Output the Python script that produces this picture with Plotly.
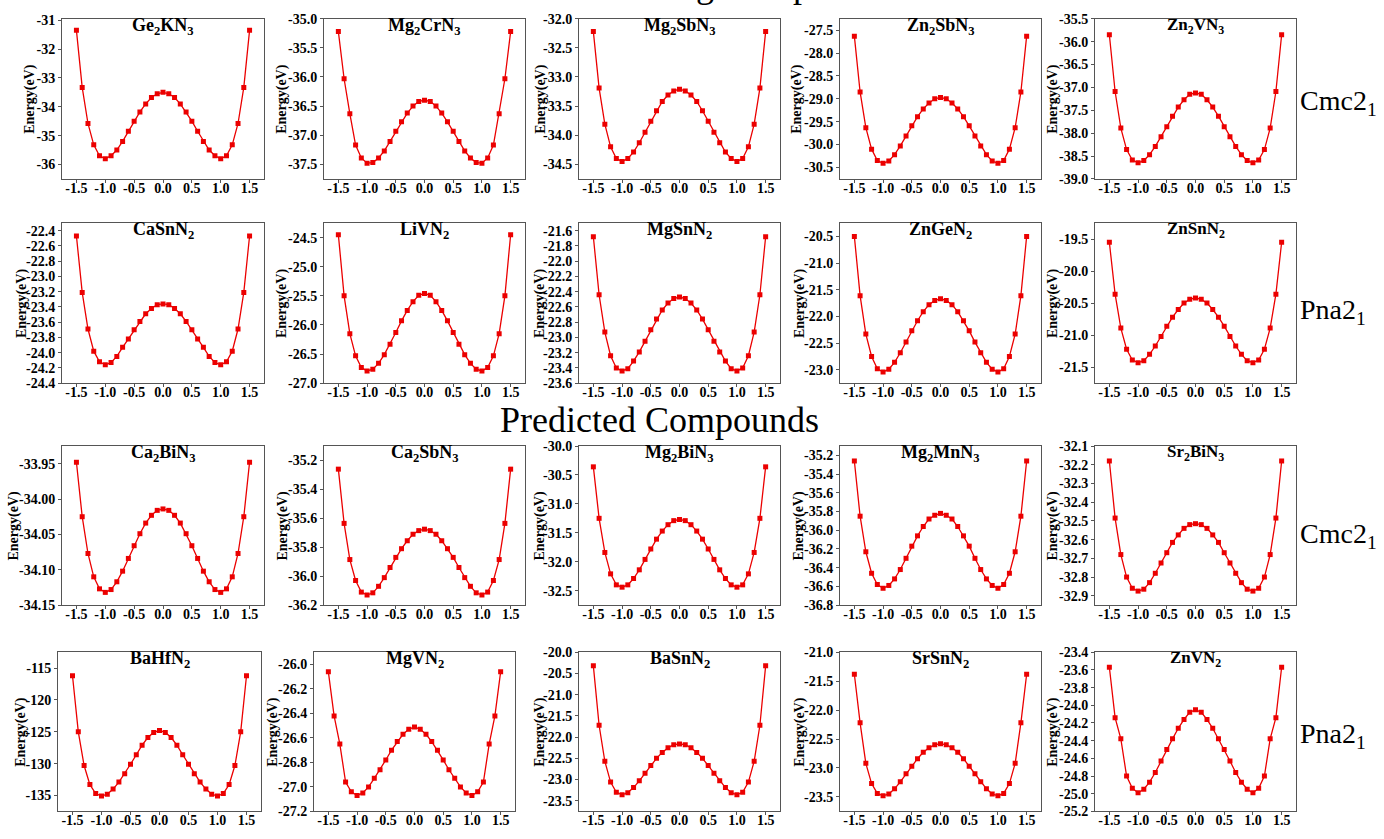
import numpy as np
import plotly.graph_objects as go

# ---------------- data ----------------
displacement = [-1.5, -1.4, -1.3, -1.2, -1.1, -1.0, -0.9, -0.8, -0.7, -0.6, -0.5, -0.4, -0.3, -0.2, -0.1,
                0.0, 0.1, 0.2, 0.3, 0.4, 0.5, 0.6, 0.7, 0.8, 0.9, 1.0, 1.1, 1.2, 1.3, 1.4, 1.5]

compounds = ["Ge<sub>2</sub>KN<sub>3</sub>", "Mg<sub>2</sub>CrN<sub>3</sub>", "Mg<sub>2</sub>SbN<sub>3</sub>",
             "Zn<sub>2</sub>SbN<sub>3</sub>", "Zn<sub>2</sub>VN<sub>3</sub>",
             "CaSnN<sub>2</sub>", "LiVN<sub>2</sub>", "MgSnN<sub>2</sub>", "ZnGeN<sub>2</sub>", "ZnSnN<sub>2</sub>",
             "Ca<sub>2</sub>BiN<sub>3</sub>", "Ca<sub>2</sub>SbN<sub>3</sub>", "Mg<sub>2</sub>BiN<sub>3</sub>",
             "Mg<sub>2</sub>MnN<sub>3</sub>", "Sr<sub>2</sub>BiN<sub>3</sub>",
             "BaHfN<sub>2</sub>", "MgVN<sub>2</sub>", "BaSnN<sub>2</sub>", "SrSnN<sub>2</sub>", "ZnVN<sub>2</sub>"]

ge2kn3 = [-31.35, -33.33, -34.58, -35.32, -35.70, -35.80, -35.70, -35.50, -35.20, -34.85, -34.50, -34.18, -33.90, -33.68, -33.55, -33.50, -33.55, -33.68, -33.90, -34.18, -34.50, -34.85, -35.20, -35.50, -35.70, -35.80, -35.70, -35.32, -34.58, -33.33, -31.35]
mg2crn3 = [-35.22, -36.03, -36.63, -37.17, -37.39, -37.48, -37.47, -37.39, -37.27, -37.11, -36.93, -36.77, -36.62, -36.50, -36.42, -36.40, -36.42, -36.50, -36.62, -36.77, -36.93, -37.11, -37.27, -37.39, -37.47, -37.48, -37.39, -37.17, -36.63, -36.03, -35.22]
mg2sbn3 = [-32.22, -33.19, -33.81, -34.20, -34.40, -34.45, -34.40, -34.29, -34.13, -33.95, -33.76, -33.58, -33.42, -33.31, -33.24, -33.21, -33.24, -33.31, -33.42, -33.58, -33.76, -33.95, -34.13, -34.29, -34.40, -34.45, -34.40, -34.20, -33.81, -33.19, -32.22]
zn2sbn3 = [-27.63, -28.85, -29.63, -30.10, -30.35, -30.41, -30.36, -30.22, -30.03, -29.81, -29.59, -29.39, -29.22, -29.09, -29.00, -28.97, -29.00, -29.09, -29.22, -29.39, -29.59, -29.81, -30.03, -30.22, -30.36, -30.41, -30.35, -30.10, -29.63, -28.85, -27.63]
zn2vn3 = [-35.85, -37.09, -37.89, -38.36, -38.59, -38.65, -38.60, -38.47, -38.29, -38.08, -37.86, -37.63, -37.43, -37.27, -37.15, -37.12, -37.15, -37.27, -37.43, -37.63, -37.86, -38.08, -38.29, -38.47, -38.60, -38.65, -38.59, -38.36, -37.89, -37.09, -35.85]
casnn2 = [-22.47, -23.21, -23.69, -23.98, -24.12, -24.16, -24.13, -24.05, -23.93, -23.82, -23.70, -23.59, -23.49, -23.42, -23.37, -23.36, -23.37, -23.42, -23.49, -23.59, -23.70, -23.82, -23.93, -24.05, -24.13, -24.16, -24.12, -23.98, -23.69, -23.21, -22.47]
livn2 = [-24.45, -25.50, -26.15, -26.53, -26.73, -26.79, -26.76, -26.66, -26.51, -26.33, -26.13, -25.93, -25.75, -25.60, -25.49, -25.46, -25.49, -25.60, -25.75, -25.93, -26.13, -26.33, -26.51, -26.66, -26.76, -26.79, -26.73, -26.53, -26.15, -25.50, -24.45]
mgsnn2 = [-21.68, -22.44, -22.93, -23.24, -23.40, -23.44, -23.41, -23.31, -23.19, -23.05, -22.90, -22.76, -22.64, -22.55, -22.49, -22.47, -22.49, -22.55, -22.64, -22.76, -22.90, -23.05, -23.19, -23.31, -23.41, -23.44, -23.40, -23.24, -22.93, -22.44, -21.68]
zngen2 = [-20.50, -21.61, -22.33, -22.75, -22.98, -23.04, -22.99, -22.86, -22.68, -22.48, -22.27, -22.08, -21.91, -21.78, -21.70, -21.67, -21.70, -21.78, -21.91, -22.08, -22.27, -22.48, -22.68, -22.86, -22.99, -23.04, -22.98, -22.75, -22.33, -21.61, -20.50]
znsnn2 = [-19.55, -20.36, -20.89, -21.22, -21.39, -21.43, -21.40, -21.30, -21.17, -21.02, -20.86, -20.72, -20.60, -20.50, -20.44, -20.42, -20.44, -20.50, -20.60, -20.72, -20.86, -21.02, -21.17, -21.30, -21.40, -21.43, -21.39, -21.22, -20.89, -20.36, -19.55]
ca2bin3 = [-33.948, -34.025, -34.077, -34.110, -34.127, -34.132, -34.128, -34.117, -34.102, -34.084, -34.066, -34.049, -34.034, -34.023, -34.016, -34.014, -34.016, -34.023, -34.034, -34.049, -34.066, -34.084, -34.102, -34.117, -34.128, -34.132, -34.127, -34.110, -34.077, -34.025, -33.948]
ca2sbn3 = [-35.260, -35.635, -35.885, -36.030, -36.110, -36.130, -36.115, -36.070, -36.010, -35.940, -35.870, -35.810, -35.755, -35.710, -35.685, -35.675, -35.685, -35.710, -35.755, -35.810, -35.870, -35.940, -36.010, -36.070, -36.115, -36.130, -36.110, -36.030, -35.885, -35.635, -35.260]
mg2bin3 = [-30.36, -31.25, -31.84, -32.21, -32.40, -32.44, -32.40, -32.29, -32.14, -31.96, -31.78, -31.61, -31.47, -31.36, -31.29, -31.27, -31.29, -31.36, -31.47, -31.61, -31.78, -31.96, -32.14, -32.29, -32.40, -32.44, -32.40, -32.21, -31.84, -31.25, -30.36]
mg2mnn3 = [-35.26, -35.85, -36.23, -36.46, -36.58, -36.62, -36.59, -36.52, -36.42, -36.30, -36.17, -36.06, -35.96, -35.88, -35.84, -35.82, -35.84, -35.88, -35.96, -36.06, -36.17, -36.30, -36.42, -36.52, -36.59, -36.62, -36.58, -36.46, -36.23, -35.85, -35.26]
sr2bin3 = [-32.180, -32.485, -32.680, -32.800, -32.860, -32.875, -32.865, -32.830, -32.780, -32.725, -32.670, -32.615, -32.575, -32.540, -32.520, -32.515, -32.520, -32.540, -32.575, -32.615, -32.670, -32.725, -32.780, -32.830, -32.865, -32.875, -32.860, -32.800, -32.680, -32.485, -32.180]
bahfn2 = [-116.2, -125.0, -130.3, -133.3, -134.7, -135.1, -134.8, -134.0, -132.9, -131.6, -130.1, -128.6, -127.1, -125.9, -125.1, -124.8, -125.1, -125.9, -127.1, -128.6, -130.1, -131.6, -132.9, -134.0, -134.8, -135.1, -134.7, -133.3, -130.3, -125.0, -116.2]
mgvn2 = [-26.06, -26.42, -26.65, -26.96, -27.04, -27.07, -27.05, -27.00, -26.93, -26.86, -26.78, -26.70, -26.63, -26.57, -26.53, -26.51, -26.53, -26.57, -26.63, -26.70, -26.78, -26.86, -26.93, -27.00, -27.05, -27.07, -27.04, -26.96, -26.65, -26.42, -26.06]
basnn2 = [-20.32, -21.72, -22.57, -23.06, -23.30, -23.36, -23.31, -23.19, -23.03, -22.85, -22.67, -22.50, -22.36, -22.25, -22.18, -22.16, -22.18, -22.25, -22.36, -22.50, -22.67, -22.85, -23.03, -23.19, -23.31, -23.36, -23.30, -23.06, -22.57, -21.72, -20.32]
srsnn2 = [-21.38, -22.22, -22.92, -23.27, -23.44, -23.48, -23.45, -23.36, -23.24, -23.10, -22.97, -22.84, -22.73, -22.65, -22.60, -22.58, -22.60, -22.65, -22.73, -22.84, -22.97, -23.10, -23.24, -23.36, -23.45, -23.48, -23.44, -23.27, -22.92, -22.22, -21.38]
znvn2 = [-23.57, -24.14, -24.38, -24.80, -24.94, -24.99, -24.95, -24.87, -24.76, -24.63, -24.50, -24.38, -24.26, -24.16, -24.08, -24.05, -24.08, -24.16, -24.26, -24.38, -24.50, -24.63, -24.76, -24.87, -24.95, -24.99, -24.94, -24.80, -24.38, -24.14, -23.57]

energies = [ge2kn3, mg2crn3, mg2sbn3, zn2sbn3, zn2vn3,
            casnn2, livn2, mgsnn2, zngen2, znsnn2,
            ca2bin3, ca2sbn3, mg2bin3, mg2mnn3, sr2bin3,
            bahfn2, mgvn2, basnn2, srsnn2, znvn2]

# y-axis ranges, tick steps and decimals per panel
y_ranges = [(-36.5, -30.95), (-37.75, -35.0), (-34.75, -32.0), (-30.75, -27.25), (-39.0, -35.5),
            (-24.4, -22.3), (-27.0, -24.25), (-23.6, -21.5), (-23.25, -20.25), (-21.75, -19.25),
            (-34.15, -33.925), (-36.2, -35.1), (-32.75, -30.0), (-36.8, -35.1), (-32.95, -32.1),
            (-137.5, -112.5), (-27.2, -25.9), (-23.75, -20.0), (-23.75, -21.0), (-25.2, -23.4)]
y_steps = [1, 0.5, 0.5, 0.5, 0.5,
           0.2, 0.5, 0.2, 0.5, 0.5,
           0.05, 0.2, 0.5, 0.2, 0.1,
           5, 0.2, 0.5, 0.5, 0.2]
y_decimals = [0, 1, 1, 1, 1,
              1, 1, 1, 1, 1,
              2, 1, 1, 1, 1,
              0, 1, 1, 1, 1]
x_ticks = [-1.5, -1.0, -0.5, 0.0, 0.5, 1.0, 1.5]
x_tick_labels = ["-1.5", "-1.0", "-0.5", "0.0", "0.5", "1.0", "1.5"]

row_labels = ["Cmc2<sub>1</sub>", "Pna2<sub>1</sub>", "Cmc2<sub>1</sub>", "Pna2<sub>1</sub>"]
section_titles = ["Existing Compounds", "Predicted Compounds"]

# ---------------- layout geometry (pixels) ----------------
W, H = 1384, 839
row_px = [(12, 175), (220, 383), (447, 609), (657, 819)]
col_px = [(62, 264), (324, 525), (579, 780), (840, 1041), (1095, 1296)]
col_px_last_row = [(58, 261), (314, 515), (579, 780), (840, 1041), (1095, 1296)]
ylabel_offset = [32, 42, 38, 43, 42,
                 40, 42, 39, 40, 42,
                 48, 41, 39, 41, 42,
                 37, 41, 39, 40, 42]
label_y_px = [97, 310, 538, 742]

FONT = "Liberation Serif"
RED = "rgb(235,0,0)"
AXC = "#555555"

fig = go.Figure()
annotations = []

def fmt(v, d):
    s = f"{v:.{d}f}"
    if s.startswith("-") and float(s) == 0:
        s = s[1:]
    return s

for i in range(20):
    r, c = divmod(i, 5)
    x0, x1 = (col_px_last_row if r == 3 else col_px)[c]
    y0, y1 = row_px[r]
    xs = "" if i == 0 else str(i + 1)
    fig.add_trace(go.Scatter(
        x=displacement, y=energies[i], mode="lines+markers",
        line=dict(color=RED, width=1.3),
        marker=dict(symbol="square", size=5, color=RED),
        xaxis="x" + xs, yaxis="y" + xs, showlegend=False,
        hoverinfo="x+y"))

    lo, hi = y_ranges[i]
    step = y_steps[i]
    start = np.ceil(lo / step - 1e-6) * step
    tv = np.round(np.arange(start, hi + 1e-9, step), 4)
    tt = [fmt(v, y_decimals[i]) for v in tv]

    axis_common = dict(showline=True, linecolor=AXC, linewidth=1, mirror=True,
                       ticks="outside", ticklen=3, tickcolor=AXC, showgrid=False,
                       zeroline=False, tickfont=dict(family=FONT, size=14, color="black", weight="bold"))
    fig.layout["xaxis" + xs] = dict(domain=[x0 / W, x1 / W], anchor="y" + xs,
                                    range=[-1.75, 1.75], tickvals=x_ticks, ticktext=x_tick_labels,
                                    ticklabelstandoff=-7, **axis_common)
    fig.layout["yaxis" + xs] = dict(domain=[1 - y1 / H, 1 - y0 / H], anchor="x" + xs,
                                    range=[lo, hi], tickvals=list(tv), ticktext=tt,
                                    ticklabelstandoff=0, **axis_common)

    # panel title
    annotations.append(dict(text="<b>" + compounds[i] + "</b>", xref="paper", yref="paper",
                            x=(x0 + x1) / 2 / W, y=1 - y0 / H, xanchor="center", yanchor="top",
                            yshift=6, showarrow=False,
                            font=dict(family=FONT, size=17 if c == 4 else 18, color="black")))
    # y-axis title
    annotations.append(dict(text="<b>Energy(eV)</b>", xref="paper", yref="paper",
                            x=(x0 - ylabel_offset[i]) / W, y=1 - (y0 + y1) / 2 / H,
                            xanchor="center", yanchor="middle", textangle=-90, showarrow=False,
                            font=dict(family=FONT, size=14, color="black")))

for r in range(4):
    annotations.append(dict(text=row_labels[r], xref="paper", yref="paper",
                            x=1298 / W, y=1 - label_y_px[r] / H, xanchor="left", yanchor="middle",
                            showarrow=False, font=dict(family=FONT, size=28, color="black")))

annotations.append(dict(text=section_titles[0], xref="paper", yref="paper",
                        x=745 / W, y=1.0, xanchor="center", yanchor="bottom",
                        showarrow=False, font=dict(family=FONT, size=36, color="black")))
annotations.append(dict(text=section_titles[1], xref="paper", yref="paper",
                        x=659 / W, y=1 - 421 / H, xanchor="center", yanchor="middle",
                        showarrow=False, font=dict(family=FONT, size=36, color="black")))

fig.update_layout(width=W, height=H, margin=dict(l=0, r=0, t=0, b=0),
                  paper_bgcolor="white", plot_bgcolor="white",
                  annotations=annotations, showlegend=False)

fig.write_html("out.html", config={"displayModeBar": False})
with open("out.html", "r", encoding="utf-8") as f:
    html = f.read()
html = html.replace("<body>", '<body style="margin:0;padding:0;overflow:hidden">', 1)
with open("out.html", "w", encoding="utf-8") as f:
    f.write(html)
